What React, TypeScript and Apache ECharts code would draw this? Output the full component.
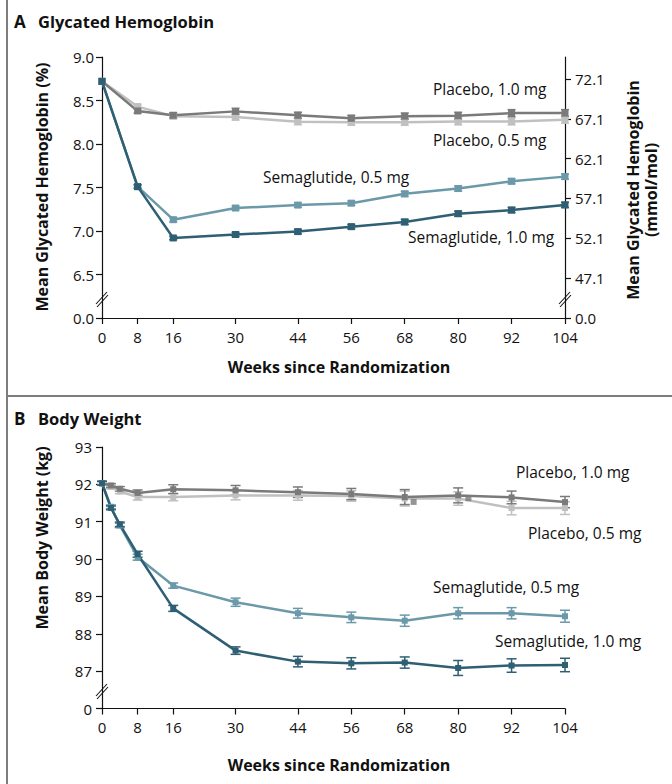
import React, { useEffect, useRef } from "react";
import * as echarts from "echarts";

// ---------- Data ----------
const weekTicks = [0, 8, 16, 30, 44, 56, 68, 80, 92, 104];

// Panel A: Glycated hemoglobin (%)
const weeksA = [0, 8, 16, 30, 44, 56, 68, 80, 92, 104];
const hbaPlacebo10 = [8.72, 8.38, 8.33, 8.375, 8.33, 8.295, 8.32, 8.325, 8.355, 8.355];
const hbaPlacebo05 = [8.72, 8.43, 8.32, 8.31, 8.257, 8.25, 8.25, 8.26, 8.26, 8.28];
const hbaSema05 = [8.72, 7.51, 7.13, 7.264, 7.298, 7.32, 7.427, 7.488, 7.572, 7.625];
const hbaSema10 = [8.72, 7.51, 6.92, 6.96, 6.993, 7.05, 7.104, 7.199, 7.241, 7.3];
const hbaErrPlacebo10 = [0, 0.025, 0.03, 0.035, 0.035, 0.035, 0.035, 0.04, 0.04, 0.04];
const hbaErrPlacebo05 = [0, 0.025, 0.03, 0.035, 0.035, 0.035, 0.035, 0.04, 0.04, 0.04];
const hbaErrSema05 = [0, 0.02, 0.025, 0.025, 0.025, 0.025, 0.03, 0.03, 0.03, 0.03];
const hbaErrSema10 = [0, 0.02, 0.02, 0.025, 0.025, 0.025, 0.03, 0.03, 0.03, 0.03];
const rightTicksA = [42.08, 47.1, 52.1, 57.1, 62.1, 67.1, 72.1];

// Panel B: Body weight (kg)
const weeksB = [0, 2, 4, 8, 16, 30, 44, 56, 68, 80, 92, 104];
const bwPlacebo10 = [92.03, 91.97, 91.88, 91.77, 91.87, 91.84, 91.79, 91.74, 91.66, 91.705, 91.65, 91.525];
const bwPlacebo05 = [92.03, 91.93, 91.81, 91.66, 91.66, 91.705, 91.705, 91.69, 91.62, 91.62, 91.365, 91.365];
const bwSema05 = [92.03, 91.4, 90.9, 90.05, 89.29, 88.845, 88.55, 88.44, 88.35, 88.55, 88.55, 88.47];
const bwSema10 = [92.03, 91.37, 90.93, 90.13, 88.68, 87.55, 87.255, 87.21, 87.23, 87.085, 87.15, 87.165];
const bwErrPlacebo10 = [0.05, 0.05, 0.06, 0.08, 0.12, 0.13, 0.14, 0.15, 0.2, 0.2, 0.17, 0.15];
const bwErrPlacebo05 = [0.05, 0.05, 0.06, 0.08, 0.1, 0.12, 0.13, 0.14, 0.2, 0.18, 0.18, 0.17];
const bwErrSema05 = [0.05, 0.05, 0.06, 0.08, 0.07, 0.11, 0.13, 0.14, 0.15, 0.15, 0.15, 0.16];
const bwErrSema10 = [0.05, 0.05, 0.06, 0.08, 0.08, 0.1, 0.14, 0.15, 0.15, 0.2, 0.18, 0.18];
const bwStrayWeeks = [70, 82.3];
const bwStrayValues = [91.53, 91.63];

// ---------- Styles ----------
const FONT = "'Open Sans', 'Noto Sans', sans-serif";
const C_P10 = "#7a7a7a";
const C_P05 = "#c0c0c0";
const C_S05 = "#6b99aa";
const C_S10 = "#2e5f73";
const AXIS_COLOR = "#111";
const TICK_FS = 15;

function lineSeries(weeks: number[], vals: number[], color: string, xi: number, yi: number, size: number) {
  return {
    type: "line",
    xAxisIndex: xi,
    yAxisIndex: yi,
    data: weeks.map((w, i) => [w, vals[i]]),
    symbol: "rect",
    symbolSize: size,
    showAllSymbol: true,
    lineStyle: { color, width: 2.5 },
    itemStyle: { color },
    z: 3,
    silent: true,
  };
}

function errSeries(weeks: number[], vals: number[], errs: number[], color: string, xi: number, yi: number, capW: number) {
  const data = weeks
    .map((w, i) => [w, vals[i] - errs[i], vals[i] + errs[i]])
    .filter((d) => d[2] - d[1] > 0);
  return {
    type: "custom",
    xAxisIndex: xi,
    yAxisIndex: yi,
    data,
    encode: { x: 0, y: [1, 2] },
    z: 2,
    silent: true,
    renderItem: (_params: any, api: any) => {
      const x = api.value(0);
      const lo = api.coord([x, api.value(1)]);
      const hi = api.coord([x, api.value(2)]);
      const hw = capW / 2;
      const st = { stroke: color, lineWidth: 1.5 };
      return {
        type: "group",
        children: [
          { type: "line", shape: { x1: lo[0], y1: lo[1], x2: hi[0], y2: hi[1] }, style: st },
          { type: "line", shape: { x1: lo[0] - hw, y1: lo[1], x2: lo[0] + hw, y2: lo[1] }, style: st },
          { type: "line", shape: { x1: hi[0] - hw, y1: hi[1], x2: hi[0] + hw, y2: hi[1] }, style: st },
        ],
      };
    },
  };
}

function xAxisCfg(gridIndex: number) {
  return {
    type: "value",
    gridIndex,
    min: 0,
    max: 104,
    axisLine: { show: true, lineStyle: { color: AXIS_COLOR, width: 1.2 } },
    axisTick: { show: true, length: 6, customValues: weekTicks, lineStyle: { color: AXIS_COLOR, width: 1.2 } },
    axisLabel: { customValues: weekTicks, color: "#111", fontSize: TICK_FS, fontFamily: FONT, margin: 11 },
    splitLine: { show: false },
  };
}

function txt(text: string, x: number, y: number, opts: any = {}) {
  return {
    type: "text",
    x,
    y,
    rotation: opts.rotation || 0,
    silent: true,
    style: {
      text,
      fill: "#111",
      font: `${opts.bold ? "bold " : ""}${opts.size || 15.5}px ${FONT}`,
      align: opts.align || "left",
      verticalAlign: "middle",
    },
  };
}

function breakMark(x: number, y: number) {
  const st = { stroke: AXIS_COLOR, lineWidth: 1.1 };
  return [
    { type: "line", silent: true, shape: { x1: x - 6, y1: y + 5, x2: x + 5, y2: y - 7 }, style: st },
    { type: "line", silent: true, shape: { x1: x - 5, y1: y + 8, x2: x + 6, y2: y - 4 }, style: st },
  ];
}

export default function App() {
  const ref = useRef<HTMLDivElement>(null);

  useEffect(() => {
    if (!ref.current) return;
    const chart = echarts.init(ref.current, undefined, { renderer: "svg" });

    const option: any = {
      animation: false,
      backgroundColor: "#fff",
      grid: [
        { left: 102, top: 57, width: 463, height: 261 },
        { left: 102, top: 447, width: 463, height: 261.5 },
      ],
      xAxis: [xAxisCfg(0), xAxisCfg(1)],
      yAxis: [
        {
          type: "value",
          gridIndex: 0,
          position: "left",
          min: 6,
          max: 9,
          interval: 0.5,
          axisLine: { show: true, lineStyle: { color: AXIS_COLOR, width: 1.2 } },
          axisTick: { show: true, length: 6, lineStyle: { color: AXIS_COLOR, width: 1.2 } },
          axisLabel: {
            color: "#111",
            fontSize: TICK_FS,
            fontFamily: FONT,
            margin: 8,
            formatter: (v: number) => (Math.abs(v - 6) < 1e-6 ? "0.0" : v.toFixed(1)),
          },
          splitLine: { show: false },
        },
        {
          type: "value",
          gridIndex: 0,
          position: "right",
          min: 42.08,
          max: 74.87,
          axisLine: { show: true, lineStyle: { color: AXIS_COLOR, width: 1.2 } },
          axisTick: { show: true, length: 6, customValues: rightTicksA, lineStyle: { color: AXIS_COLOR, width: 1.2 } },
          axisLabel: {
            customValues: rightTicksA,
            color: "#111",
            fontSize: TICK_FS,
            fontFamily: FONT,
            margin: 10,
            formatter: (v: number) => (v < 43 ? "0.0" : v.toFixed(1)),
          },
          splitLine: { show: false },
        },
        {
          type: "value",
          gridIndex: 1,
          position: "left",
          min: 86,
          max: 93,
          interval: 1,
          axisLine: { show: true, lineStyle: { color: AXIS_COLOR, width: 1.2 } },
          axisTick: { show: true, length: 6, lineStyle: { color: AXIS_COLOR, width: 1.2 } },
          axisLabel: {
            color: "#111",
            fontSize: TICK_FS,
            fontFamily: FONT,
            margin: 10,
            formatter: (v: number) => (Math.abs(v - 86) < 1e-6 ? "0" : String(v)),
          },
          splitLine: { show: false },
        },
      ],
      series: [
        errSeries(weeksA, hbaPlacebo05, hbaErrPlacebo05, C_P05, 0, 0, 8),
        errSeries(weeksA, hbaPlacebo10, hbaErrPlacebo10, C_P10, 0, 0, 8),
        errSeries(weeksA, hbaSema05, hbaErrSema05, C_S05, 0, 0, 8),
        errSeries(weeksA, hbaSema10, hbaErrSema10, C_S10, 0, 0, 8),
        lineSeries(weeksA, hbaPlacebo05, C_P05, 0, 0, 7),
        lineSeries(weeksA, hbaPlacebo10, C_P10, 0, 0, 7),
        lineSeries(weeksA, hbaSema05, C_S05, 0, 0, 7),
        lineSeries(weeksA, hbaSema10, C_S10, 0, 0, 7),

        errSeries(weeksB, bwPlacebo05, bwErrPlacebo05, C_P05, 1, 2, 10),
        errSeries(weeksB, bwPlacebo10, bwErrPlacebo10, C_P10, 1, 2, 10),
        errSeries(weeksB, bwSema05, bwErrSema05, C_S05, 1, 2, 10),
        errSeries(weeksB, bwSema10, bwErrSema10, C_S10, 1, 2, 10),
        lineSeries(weeksB, bwPlacebo05, C_P05, 1, 2, 6),
        lineSeries(weeksB, bwPlacebo10, C_P10, 1, 2, 6),
        lineSeries(weeksB, bwSema05, C_S05, 1, 2, 6),
        lineSeries(weeksB, bwSema10, C_S10, 1, 2, 6),
        {
          type: "scatter",
          xAxisIndex: 1,
          yAxisIndex: 2,
          data: bwStrayWeeks.map((w, i) => [w, bwStrayValues[i]]),
          symbol: "rect",
          symbolSize: 6,
          itemStyle: { color: C_P10 },
          z: 4,
          silent: true,
        },
      ],
      graphic: [
        // frame
        { type: "line", silent: true, shape: { x1: 7, y1: 0, x2: 7, y2: 784 }, style: { stroke: "#7d7d7d", lineWidth: 2 } },
        { type: "line", silent: true, shape: { x1: 7, y1: 396, x2: 672, y2: 396 }, style: { stroke: "#7d7d7d", lineWidth: 2 } },
        // panel titles
        txt("A", 14, 21, { bold: true, size: 17 }),
        txt("Glycated Hemoglobin", 38, 21, { bold: true, size: 16.5 }),
        txt("B", 14, 418, { bold: true, size: 17 }),
        txt("Body Weight", 38, 418, { bold: true, size: 16.5 }),
        // axis titles
        txt("Mean Glycated Hemoglobin (%)", 42, 187, { bold: true, size: 16, align: "center", rotation: Math.PI / 2 }),
        txt("Mean Glycated Hemoglobin", 633, 190, { bold: true, size: 16, align: "center", rotation: Math.PI / 2 }),
        txt("(mmol/mol)", 651, 190, { bold: true, size: 16, align: "center", rotation: Math.PI / 2 }),
        txt("Weeks since Randomization", 339, 367, { bold: true, size: 16, align: "center" }),
        txt("Mean Body Weight (kg)", 42, 538, { bold: true, size: 16, align: "center", rotation: Math.PI / 2 }),
        txt("Weeks since Randomization", 339, 765, { bold: true, size: 16, align: "center" }),
        // series labels A
        txt("Placebo, 1.0 mg", 433, 89),
        txt("Placebo, 0.5 mg", 433, 140),
        txt("Semaglutide, 0.5 mg", 263, 177),
        txt("Semaglutide, 1.0 mg", 408, 237),
        // series labels B
        txt("Placebo, 1.0 mg", 516, 472),
        txt("Placebo, 0.5 mg", 528, 533),
        txt("Semaglutide, 0.5 mg", 433, 587),
        txt("Semaglutide, 1.0 mg", 495, 641),
        // axis breaks
        ...breakMark(102, 299),
        ...breakMark(565, 299),
        ...breakMark(102, 691),
      ],
    };

    chart.setOption(option);
    return () => chart.dispose();
  }, []);

  return (
    <div
      ref={ref}
      style={{ position: "fixed", left: 0, top: 0, width: 672, height: 784, background: "#fff" }}
    />
  );
}
